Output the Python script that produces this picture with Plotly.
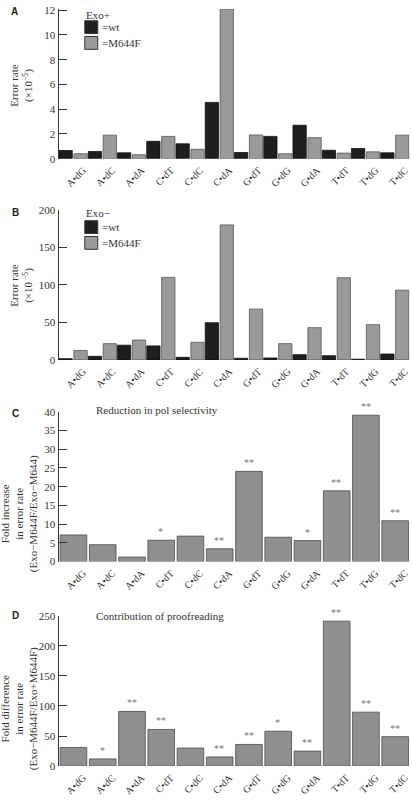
import plotly.graph_objects as go

categories = ["A•dG", "A•dC", "A•dA", "C•dT", "C•dC", "C•dA",
              "G•dT", "G•dG", "G•dA", "T•dT", "T•dG", "T•dC"]

# Panel A: Exo+ error rates (x10^-5)
exo_plus_wt = [0.66, 0.58, 0.47, 1.4, 1.2, 4.55, 0.5, 1.8, 2.7, 0.68, 0.82, 0.47]
exo_plus_m644f = [0.4, 1.9, 0.32, 1.8, 0.76, 12.1, 1.92, 0.4, 1.7, 0.45, 0.55, 1.9]

# Panel B: Exo- error rates (x10^-5)
exo_minus_wt = [1.7, 4.8, 19.6, 18.7, 3.5, 49.6, 2.2, 2.6, 7.0, 5.6, 1.0, 7.8]
exo_minus_m644f = [12.6, 21.7, 26.5, 110, 23.5, 180, 67.8, 21.7, 43, 109.6, 47, 93]

# Panel C: fold increase (Exo-M644F / Exo-M644)
fold_increase = [7.1, 4.5, 1.2, 5.7, 6.8, 3.4, 24.1, 6.5, 5.6, 18.9, 39.1, 10.9]
sig_c = ["", "", "", "*", "", "**", "**", "", "*", "**", "**", "**"]

# Panel D: fold difference (Exo-M644F / Exo+M644F)
fold_difference = [31, 12, 90.8, 61, 30, 15.3, 36, 58, 25, 241, 89.7, 49]
sig_d = ["", "*", "**", "**", "", "**", "**", "*", "**", "**", "**", "**"]

W, H = 412, 800
SERIF = "Liberation Serif, Times New Roman, serif"
DARK = "#1e1e1e"
GRAY = "#9a9a9a"
GRAY_CD = "#8f8f8f"
EDGE = "#555555"

def py(px):
    return 1 - px / H

def pxx(px):
    return px / W

x_dom = [pxx(58.7), pxx(410.5)]
panels = [
    dict(top=3, bot=155, rng=[0, 12.1], dtick=2),
    dict(top=207, bot=359.3, rng=[0, 200], dtick=50),
    dict(top=412, bot=564, rng=[0, 40], dtick=5),
    dict(top=619, bot=771.7, rng=[0, 250], dtick=50),
]

fig = go.Figure()

def add_pair(ax, wt, mut):
    xa = "x" if ax == 1 else f"x{ax}"
    ya = "y" if ax == 1 else f"y{ax}"
    fig.add_trace(go.Bar(x=categories, y=wt, xaxis=xa, yaxis=ya,
                         offset=-0.485, width=0.455,
                         marker=dict(color=DARK, line=dict(color="#111111", width=0.8)),
                         showlegend=False))
    fig.add_trace(go.Bar(x=categories, y=mut, xaxis=xa, yaxis=ya,
                         offset=0.025, width=0.455,
                         marker=dict(color=GRAY, line=dict(color=EDGE, width=0.8)),
                         showlegend=False))

add_pair(1, exo_plus_wt, exo_plus_m644f)
add_pair(2, exo_minus_wt, exo_minus_m644f)

for ax, vals in [(3, fold_increase), (4, fold_difference)]:
    fig.add_trace(go.Bar(x=categories, y=vals, xaxis=f"x{ax}", yaxis=f"y{ax}",
                         offset=-0.445, width=0.91,
                         marker=dict(color=GRAY_CD, line=dict(color="#4a4a4a", width=0.8)),
                         showlegend=False))

layout = dict(width=W, height=H, margin=dict(l=0, r=0, t=0, b=0),
              paper_bgcolor="white", plot_bgcolor="white",
              barmode="overlay", font=dict(family=SERIF, size=11, color="#222"))

for i, p in enumerate(panels, start=1):
    xk = "xaxis" if i == 1 else f"xaxis{i}"
    yk = "yaxis" if i == 1 else f"yaxis{i}"
    ya = "y" if i == 1 else f"y{i}"
    xa = "x" if i == 1 else f"x{i}"
    layout[xk] = dict(domain=x_dom, anchor=ya, type="category",
                      range=[-0.5, 11.5], showline=False, showgrid=False,
                      zeroline=False, ticks="", tickangle=-45,
                      ticklabelshift=10, ticklabelstandoff=3,
                      tickfont=dict(family=SERIF, size=10, color="#333"))
    layout[yk] = dict(domain=[py(p["bot"]), py(p["top"])], anchor=xa,
                      range=p["rng"], dtick=p["dtick"], tick0=0,
                      showline=True, linecolor="#333", linewidth=1,
                      ticks="inside", ticklen=8, tickcolor="#333", tickwidth=1,
                      showgrid=False, zeroline=False,
                      tickfont=dict(family=SERIF, size=11, color="#333"))

fig.update_layout(**layout)

ann = []
# panel letters
for letter, x, y in [("A", 15, 6), ("B", 16, 210), ("C", 16, 414), ("D", 16, 619)]:
    ann.append(dict(text=f"<b>{letter}</b>", x=pxx(x), y=py(y), xref="paper", yref="paper",
                    showarrow=False, xanchor="center", yanchor="middle",
                    font=dict(family="Liberation Sans, Arial, sans-serif", size=10, color="#222")))

# y titles
ytitles = [
    ("Error rate<br>(×10<sup>−5</sup>)", 22, 80),
    ("Error rate<br>(×10<sup> −5</sup>)", 22, 283),
    ("Fold increase<br>in error rate<br>(Exo−M644F/Exo−M644)", 20, 515),
    ("Fold difference<br>in error rate<br>(Exo−M644F/Exo+M644F)", 20, 713),
]
for t, x, y in ytitles:
    ann.append(dict(text=t, x=pxx(x), y=py(y), xref="paper", yref="paper",
                    showarrow=False, textangle=-90, xanchor="center", yanchor="middle",
                    font=dict(family=SERIF, size=11, color="#333")))

# legends (A and B)
shapes = []
for title, ty, b1, b2 in [("Exo+", 9, 15, 31), ("Exo−", 210, 218, 234)]:
    ann.append(dict(text=title, x=pxx(84), y=py(ty), xref="paper", yref="paper",
                    showarrow=False, xanchor="left", yanchor="middle",
                    font=dict(family=SERIF, size=11, color="#333")))
    for top, col, lab in [(b1, DARK, "=wt"), (b2, GRAY, "=M644F")]:
        shapes.append(dict(type="rect", xref="paper", yref="paper",
                           x0=pxx(85), x1=pxx(98), y0=py(top + 13), y1=py(top),
                           fillcolor=col, line=dict(color="#333", width=1)))
        ann.append(dict(text=lab, x=pxx(100), y=py(top + 6.5), xref="paper", yref="paper",
                        showarrow=False, xanchor="left", yanchor="middle",
                        font=dict(family=SERIF, size=11, color="#333")))

# panel titles C and D
for t, y in [("Reduction in pol selectivity", 410), ("Contribution of proofreading", 619)]:
    ann.append(dict(text=t, x=pxx(94), y=py(y), xref="paper", yref="paper",
                    showarrow=False, xanchor="left", yanchor="middle",
                    font=dict(family=SERIF, size=11, color="#333")))

# significance stars
for ax, vals, sig in [(3, fold_increase, sig_c), (4, fold_difference, sig_d)]:
    for c, v, s in zip(categories, vals, sig):
        if s:
            ann.append(dict(text=s, x=c, y=v, xref=f"x{ax}", yref=f"y{ax}",
                            showarrow=False, xanchor="center", yanchor="bottom", yshift=1,
                            font=dict(family=SERIF, size=10, color="#777")))

fig.update_layout(annotations=ann, shapes=shapes)
fig.write_html("out.html", config={"displayModeBar": False},
               post_script="document.body.style.margin='0';document.body.style.overflow='hidden';")
